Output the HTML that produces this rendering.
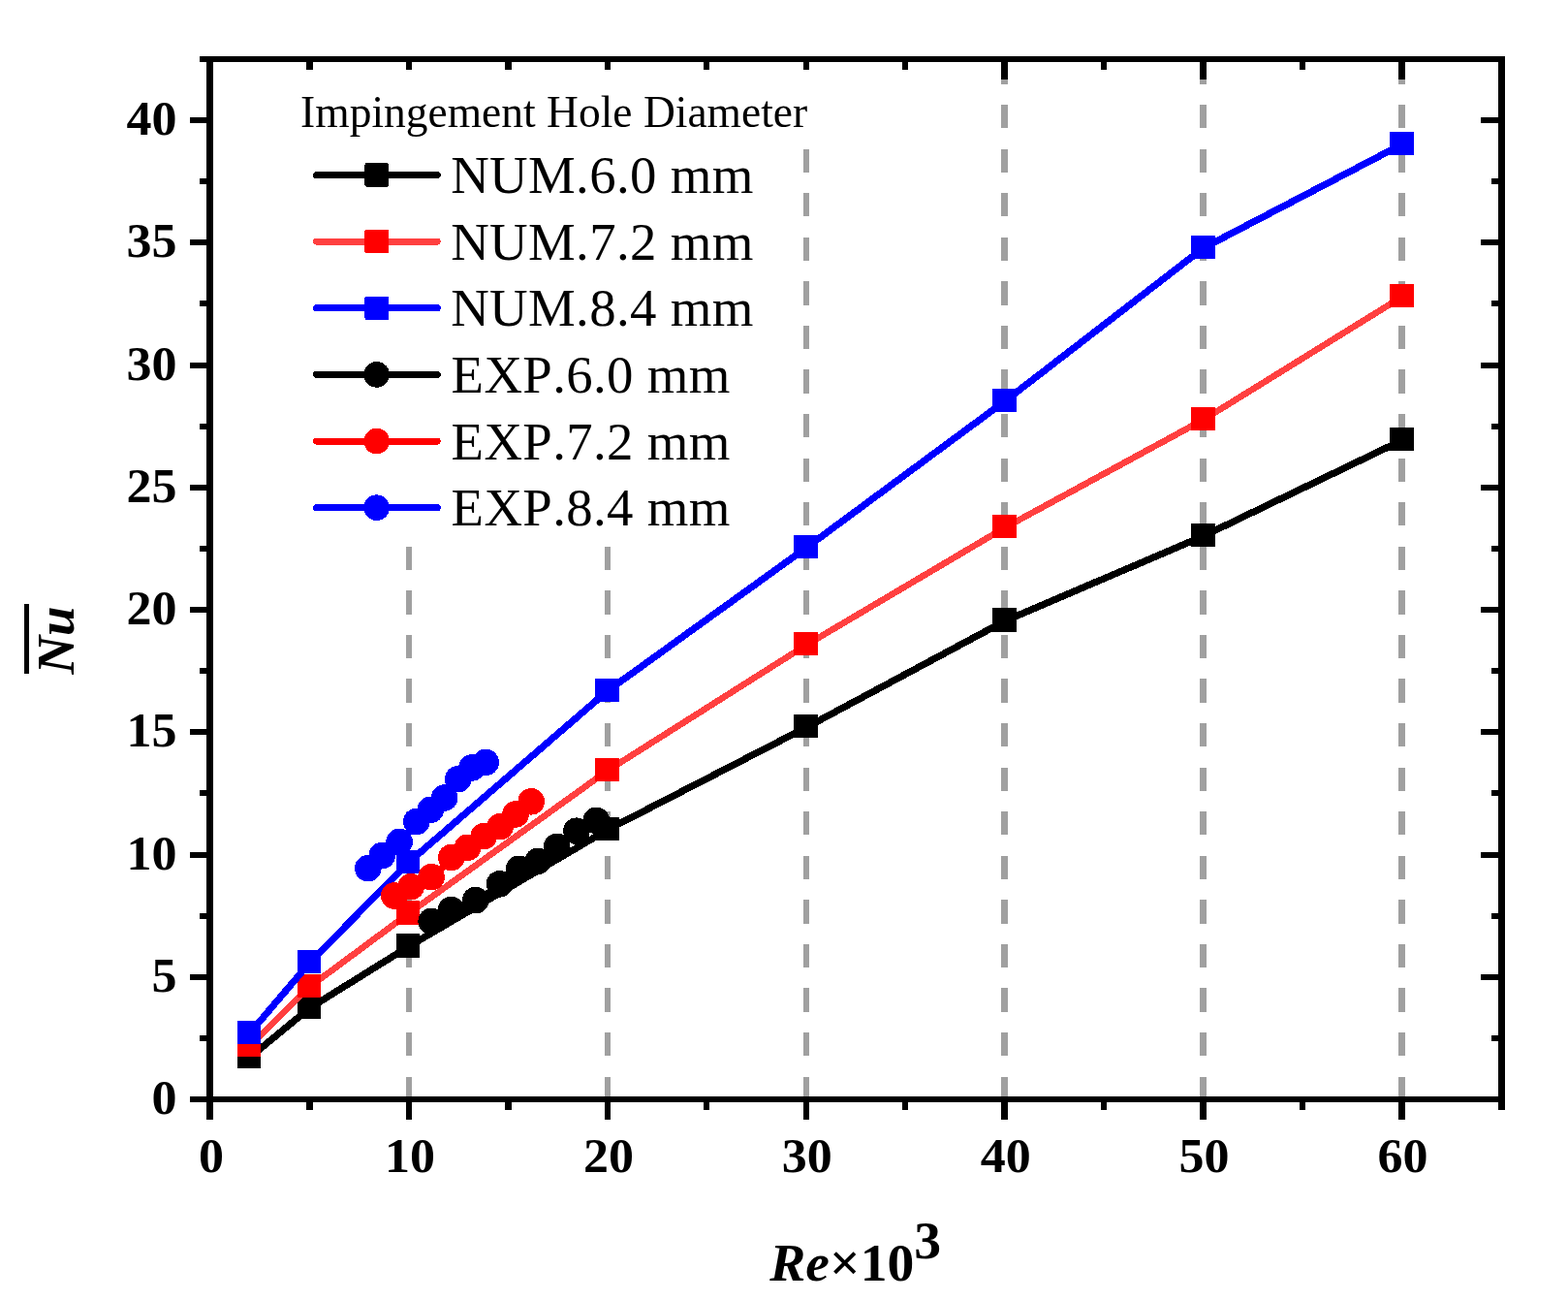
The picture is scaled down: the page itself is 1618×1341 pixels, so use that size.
<!DOCTYPE html>
<html lang="en"><head><meta charset="utf-8"><title>Nu vs Re - Impingement Hole Diameter</title>
<style>html,body{margin:0;padding:0;background:#fff}body{width:1618px;height:1341px;overflow:hidden}svg{display:block}text{font-family:"Liberation Serif","Times New Roman",serif;fill:#000;font-kerning:none;font-variant-ligatures:none;white-space:pre}.tk{font-size:51px;font-weight:bold}.lg{font-size:54.8px}.ti{font-size:46.5px}.ax{font-size:55px;font-weight:bold}</style></head><body>
<svg width="1618" height="1341" viewBox="0 0 1618 1341" shape-rendering="crispEdges">
<rect width="1618" height="1341" fill="#fff"/>
<g stroke="#a0a0a0" stroke-width="6.4" fill="none" stroke-dasharray="24.30 21.27">
<path d="M421.9 62.4V1134.0"/>
<path d="M626.8 62.4V1134.0"/>
<path d="M831.7 62.4V1134.0"/>
<path d="M1036.6 62.4V1134.0"/>
<path d="M1241.5 62.4V1134.0"/>
<path d="M1446.4 62.4V1134.0"/>
</g>
<path d="M257.5 1091.0 L319.3 1040.0 L421.3 976.6 L626.8 856.0 L831.7 750.5 L1036.7 640.7 L1241.7 553.0 L1446.7 454.2" fill="none" stroke="#000000" stroke-width="7.2" stroke-linejoin="round"/>
<g fill="#000000">
<rect x="245.1" y="1077.7" width="24.2" height="24.2"/>
<rect x="306.9" y="1026.7" width="24.2" height="24.2"/>
<rect x="408.9" y="963.3" width="24.2" height="24.2"/>
<rect x="614.4" y="842.7" width="24.2" height="24.2"/>
<rect x="819.3" y="737.2" width="24.2" height="24.2"/>
<rect x="1024.3" y="627.4" width="24.2" height="24.2"/>
<rect x="1229.3" y="539.7" width="24.2" height="24.2"/>
<rect x="1434.3" y="440.9" width="24.2" height="24.2"/>
</g>
<path d="M257.5 1079.0 L319.3 1018.1 L421.3 942.6 L626.8 795.0 L831.7 665.5 L1036.7 544.4 L1241.7 433.0 L1446.7 306.2" fill="none" stroke="#ff4040" stroke-width="6.6" stroke-linejoin="round"/>
<g fill="#ff0000">
<rect x="245.1" y="1065.7" width="24.2" height="24.2"/>
<rect x="306.9" y="1004.8" width="24.2" height="24.2"/>
<rect x="408.9" y="929.3" width="24.2" height="24.2"/>
<rect x="614.4" y="781.7" width="24.2" height="24.2"/>
<rect x="819.3" y="652.2" width="24.2" height="24.2"/>
<rect x="1024.3" y="531.1" width="24.2" height="24.2"/>
<rect x="1229.3" y="419.7" width="24.2" height="24.2"/>
<rect x="1434.3" y="292.9" width="24.2" height="24.2"/>
</g>
<path d="M257.5 1066.1 L319.3 993.3 L421.3 889.9 L626.8 712.8 L831.7 565.2 L1036.7 414.0 L1241.7 255.9 L1446.7 148.9" fill="none" stroke="#0000ff" stroke-width="7.2" stroke-linejoin="round"/>
<g fill="#0000ff">
<rect x="245.1" y="1052.8" width="24.2" height="24.2"/>
<rect x="306.9" y="980.0" width="24.2" height="24.2"/>
<rect x="408.9" y="876.6" width="24.2" height="24.2"/>
<rect x="614.4" y="699.5" width="24.2" height="24.2"/>
<rect x="819.3" y="551.9" width="24.2" height="24.2"/>
<rect x="1024.3" y="400.7" width="24.2" height="24.2"/>
<rect x="1229.3" y="242.6" width="24.2" height="24.2"/>
<rect x="1434.3" y="135.6" width="24.2" height="24.2"/>
</g>
<path d="M445.5 951.5 L465.8 939.8 L491.1 929.8 L515.9 913.0 L535.9 897.5 L555.4 889.5 L575.0 874.6 L595.2 858.4 L615.7 847.6" fill="none" stroke="#000000" stroke-width="7.2" stroke-linejoin="round"/>
<g fill="#000000">
<circle cx="445.2" cy="950.3" r="13.8"/>
<circle cx="465.5" cy="938.6" r="13.8"/>
<circle cx="490.8" cy="928.6" r="13.8"/>
<circle cx="515.6" cy="911.8" r="13.8"/>
<circle cx="535.6" cy="896.3" r="13.8"/>
<circle cx="555.1" cy="888.3" r="13.8"/>
<circle cx="574.7" cy="873.4" r="13.8"/>
<circle cx="594.9" cy="857.2" r="13.8"/>
<circle cx="615.4" cy="846.4" r="13.8"/>
</g>
<path d="M407.0 925.2 L424.3 915.9 L445.4 905.9 L466.1 885.7 L482.8 875.5 L499.5 863.9 L516.5 853.8 L532.3 841.1 L548.5 828.0" fill="none" stroke="#ff0000" stroke-width="7.2" stroke-linejoin="round"/>
<g fill="#ff0000">
<circle cx="406.7" cy="924.0" r="13.8"/>
<circle cx="424.0" cy="914.7" r="13.8"/>
<circle cx="445.1" cy="904.7" r="13.8"/>
<circle cx="465.8" cy="884.5" r="13.8"/>
<circle cx="482.5" cy="874.3" r="13.8"/>
<circle cx="499.2" cy="862.7" r="13.8"/>
<circle cx="516.2" cy="852.6" r="13.8"/>
<circle cx="532.0" cy="839.9" r="13.8"/>
<circle cx="548.2" cy="826.8" r="13.8"/>
</g>
<path d="M380.1 896.9 L394.6 883.7 L412.4 869.7 L430.1 848.7 L444.6 836.5 L458.9 824.2 L473.0 804.9 L487.3 793.1 L501.5 787.6" fill="none" stroke="#0000ff" stroke-width="7.2" stroke-linejoin="round"/>
<g fill="#0000ff">
<circle cx="379.8" cy="895.7" r="13.8"/>
<circle cx="394.3" cy="882.5" r="13.8"/>
<circle cx="412.1" cy="868.5" r="13.8"/>
<circle cx="429.8" cy="847.5" r="13.8"/>
<circle cx="444.3" cy="835.3" r="13.8"/>
<circle cx="458.6" cy="823.0" r="13.8"/>
<circle cx="472.7" cy="803.7" r="13.8"/>
<circle cx="487.0" cy="791.9" r="13.8"/>
<circle cx="501.2" cy="786.4" r="13.8"/>
</g>
<g fill="#000" shape-rendering="crispEdges">
<rect x="206" y="58" width="1347" height="6"/>
<rect x="196" y="1131" width="1357" height="6"/>
<rect x="213" y="58" width="7" height="1097"/>
<rect x="1546" y="58" width="7" height="1087"/>
</g>
<g fill="#000">
<rect x="316.25" y="1137" width="6.4" height="8"/>
<rect x="316.25" y="64" width="6.4" height="8"/>
<rect x="418.70" y="1137" width="6.4" height="18"/>
<rect x="418.70" y="64" width="6.4" height="18"/>
<rect x="521.15" y="1137" width="6.4" height="8"/>
<rect x="521.15" y="64" width="6.4" height="8"/>
<rect x="623.60" y="1137" width="6.4" height="18"/>
<rect x="623.60" y="64" width="6.4" height="18"/>
<rect x="726.05" y="1137" width="6.4" height="8"/>
<rect x="726.05" y="64" width="6.4" height="8"/>
<rect x="828.50" y="1137" width="6.4" height="18"/>
<rect x="828.50" y="64" width="6.4" height="18"/>
<rect x="930.95" y="1137" width="6.4" height="8"/>
<rect x="930.95" y="64" width="6.4" height="8"/>
<rect x="1033.40" y="1137" width="6.4" height="18"/>
<rect x="1033.40" y="64" width="6.4" height="18"/>
<rect x="1135.85" y="1137" width="6.4" height="8"/>
<rect x="1135.85" y="64" width="6.4" height="8"/>
<rect x="1238.30" y="1137" width="6.4" height="18"/>
<rect x="1238.30" y="64" width="6.4" height="18"/>
<rect x="1340.75" y="1137" width="6.4" height="8"/>
<rect x="1340.75" y="64" width="6.4" height="8"/>
<rect x="1443.20" y="1137" width="6.4" height="18"/>
<rect x="1443.20" y="64" width="6.4" height="18"/>
<rect x="206" y="1067.88" width="7" height="6"/>
<rect x="1539" y="1067.88" width="7" height="6"/>
<rect x="196" y="1004.75" width="17" height="6"/>
<rect x="1528" y="1004.75" width="18" height="6"/>
<rect x="206" y="941.62" width="7" height="6"/>
<rect x="1539" y="941.62" width="7" height="6"/>
<rect x="196" y="878.50" width="17" height="6"/>
<rect x="1528" y="878.50" width="18" height="6"/>
<rect x="206" y="815.38" width="7" height="6"/>
<rect x="1539" y="815.38" width="7" height="6"/>
<rect x="196" y="752.25" width="17" height="6"/>
<rect x="1528" y="752.25" width="18" height="6"/>
<rect x="206" y="689.12" width="7" height="6"/>
<rect x="1539" y="689.12" width="7" height="6"/>
<rect x="196" y="626.00" width="17" height="6"/>
<rect x="1528" y="626.00" width="18" height="6"/>
<rect x="206" y="562.88" width="7" height="6"/>
<rect x="1539" y="562.88" width="7" height="6"/>
<rect x="196" y="499.75" width="17" height="6"/>
<rect x="1528" y="499.75" width="18" height="6"/>
<rect x="206" y="436.62" width="7" height="6"/>
<rect x="1539" y="436.62" width="7" height="6"/>
<rect x="196" y="373.50" width="17" height="6"/>
<rect x="1528" y="373.50" width="18" height="6"/>
<rect x="206" y="310.38" width="7" height="6"/>
<rect x="1539" y="310.38" width="7" height="6"/>
<rect x="196" y="247.25" width="17" height="6"/>
<rect x="1528" y="247.25" width="18" height="6"/>
<rect x="206" y="184.12" width="7" height="6"/>
<rect x="1539" y="184.12" width="7" height="6"/>
<rect x="196" y="121.00" width="17" height="6"/>
<rect x="1528" y="121.00" width="18" height="6"/>
</g>
<rect x="300" y="72" width="545" height="76" fill="#fff"/>
<rect x="310" y="140" width="500" height="418" fill="#fff"/>
<g class="tk" text-anchor="end">
<text transform="translate(182.6 1149.1) scale(1.02 1)">0</text>
<text transform="translate(182.6 1022.9) scale(1.02 1)">5</text>
<text transform="translate(182.6 896.6) scale(1.02 1)">10</text>
<text transform="translate(182.6 770.4) scale(1.02 1)">15</text>
<text transform="translate(182.6 644.1) scale(1.02 1)">20</text>
<text transform="translate(182.6 517.9) scale(1.02 1)">25</text>
<text transform="translate(182.6 391.6) scale(1.02 1)">30</text>
<text transform="translate(182.6 265.4) scale(1.02 1)">35</text>
<text transform="translate(182.6 139.1) scale(1.02 1)">40</text>
</g>
<g class="tk" text-anchor="middle">
<text transform="translate(218.1 1209.2) scale(1.02 1)">0</text>
<text transform="translate(423.0 1209.2) scale(1.02 1)">10</text>
<text transform="translate(627.9 1209.2) scale(1.02 1)">20</text>
<text transform="translate(832.8 1209.2) scale(1.02 1)">30</text>
<text transform="translate(1037.7 1209.2) scale(1.02 1)">40</text>
<text transform="translate(1242.6 1209.2) scale(1.02 1)">50</text>
<text transform="translate(1447.5 1209.2) scale(1.02 1)">60</text>
</g>
<text class="ti" transform="translate(310.1 130.6) scale(0.9785 1)">Impingement Hole Diameter</text>
<path d="M326.5 180.5H451.2" stroke="#000000" stroke-width="7" stroke-linecap="round" fill="none"/>
<rect x="376.4" y="168.2" width="24.6" height="24.6" rx="2" fill="#000000"/>
<text class="lg" x="465.2" y="199.1" letter-spacing="0.35">NUM.6.0 mm</text>
<path d="M326.5 249.1H451.2" stroke="#ff4040" stroke-width="7" stroke-linecap="round" fill="none"/>
<rect x="376.4" y="236.8" width="24.6" height="24.6" rx="2" fill="#ff0000"/>
<text class="lg" x="465.2" y="267.7" letter-spacing="0.35">NUM.7.2 mm</text>
<path d="M326.5 317.8H451.2" stroke="#0000ff" stroke-width="7" stroke-linecap="round" fill="none"/>
<rect x="376.4" y="305.5" width="24.6" height="24.6" rx="2" fill="#0000ff"/>
<text class="lg" x="465.2" y="336.4" letter-spacing="0.35">NUM.8.4 mm</text>
<path d="M326.5 386.4H451.2" stroke="#000000" stroke-width="7" stroke-linecap="round" fill="none"/>
<circle cx="388.7" cy="386.4" r="13.3" fill="#000000"/>
<text class="lg" x="465.6" y="405.0" letter-spacing="0.35">EXP.6.0 mm</text>
<path d="M326.5 455.1H451.2" stroke="#ff0000" stroke-width="7" stroke-linecap="round" fill="none"/>
<circle cx="388.7" cy="455.1" r="13.3" fill="#ff0000"/>
<text class="lg" x="465.6" y="473.7" letter-spacing="0.35">EXP.7.2 mm</text>
<path d="M326.5 523.7H451.2" stroke="#0000ff" stroke-width="7" stroke-linecap="round" fill="none"/>
<circle cx="388.7" cy="523.7" r="13.3" fill="#0000ff"/>
<text class="lg" x="465.6" y="542.3" letter-spacing="0.35">EXP.8.4 mm</text>
<text class="ax" x="794.2" y="1320.7" style="font-size:55.6px"><tspan font-style="italic">Re</tspan>×10<tspan dy="-22.6">3</tspan></text>
<g transform="translate(75.7 695.6) rotate(-90)"><text class="ax" x="0" y="0" font-style="italic">Nu</text></g>
<path d="M27.4 622.8V695.2" stroke="#000" stroke-width="5" fill="none"/>
</svg></body></html>
